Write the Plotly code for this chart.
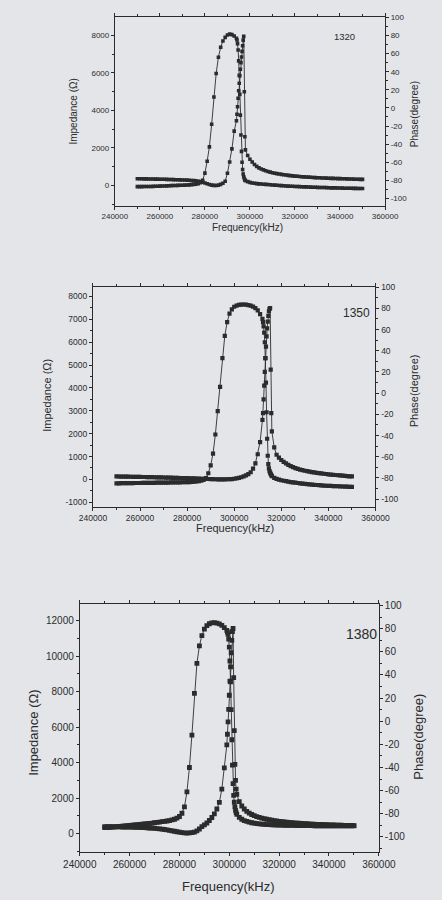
import plotly.graph_objects as go

# ---------------- data ----------------
# sample grids (Hz): 1 kHz steps, 250 Hz steps around anti-resonance
freq_1320 = list(range(250000, 294000, 1000)) + list(range(294000, 298000, 250)) + list(range(298000, 351000, 1000))
freq_1350 = list(range(250000, 312000, 1000)) + list(range(312000, 316000, 250)) + list(range(316000, 351000, 1000))
freq_1380 = list(range(250000, 299000, 1000)) + list(range(299000, 303000, 250)) + list(range(303000, 351000, 1000))

imp_1320 = [
    360, 358, 356, 354, 352, 350, 347, 344, 341, 338,
    335, 332, 329, 326, 322, 318, 314, 310, 305, 300,
    295, 290, 284, 277, 268, 258, 245, 228, 205, 175,
    135, 90, 50, 20, 5, 0, 20, 60, 120, 230,
    650, 1250, 1950, 2900,
    3450, 3800, 4200, 4650, 5050, 5450, 5850, 6200, 6550, 6850, 7150, 7450, 7750, 7950, 5000, 2600,
    1900, 1600, 1400, 1250, 1120, 1020, 940, 880, 830, 785,
    745, 710, 680, 655, 630, 610, 590, 572, 556, 541,
    527, 514, 502, 491, 480, 470, 461, 452, 444, 436,
    429, 422, 415, 409, 403, 397, 392, 387, 382, 377,
    372, 368, 364, 360, 356, 352, 348, 344, 340, 336,
    332, 328, 324,
]
phase_1320 = [
    -87.0, -87.0, -87.0, -86.9, -86.9, -86.8, -86.8, -86.7, -86.6, -86.5,
    -86.4, -86.3, -86.2, -86.1, -86.0, -85.9, -85.8, -85.7, -85.6, -85.5,
    -85.4, -85.3, -85.2, -85.0, -84.8, -84.5, -84.2, -83.6, -82.5, -80.0,
    -72, -59, -43, -18, 12, 38, 56, 67, 74, 78,
    80.5, 81.5, 81.0, 79.5,
    77, 75, 71, 64, 52, 36, 15, -8, -30, -48, -60, -68, -73, -76, -78, -79.5,
    -80.5, -81.5, -82.3, -82.9, -83.3, -83.6, -83.9, -84.1, -84.3, -84.5,
    -84.7, -84.9, -85.1, -85.3, -85.5, -85.7, -85.9, -86.0, -86.2, -86.4,
    -86.5, -86.6, -86.8, -86.9, -87.0, -87.1, -87.2, -87.3, -87.4, -87.5,
    -87.6, -87.7, -87.8, -87.9, -88.0, -88.0, -88.1, -88.2, -88.3, -88.3,
    -88.4, -88.5, -88.5, -88.6, -88.7, -88.7, -88.8, -88.8, -88.9, -88.9,
    -89.0, -89.0, -89.0,
]

imp_1350 = [
    130, 128, 126, 124, 122, 120, 118, 116, 114, 112,
    110, 108, 106, 104, 102, 100, 97, 94, 91, 88,
    85, 82, 79, 76, 73, 70, 67, 64, 61, 58,
    55, 51, 47, 43, 39, 35, 31, 27, 23, 19,
    15, 12, 9, 7, 5, 5, 6, 8, 12, 18,
    30, 46, 68, 96, 130, 175, 235, 315, 470, 700,
    1100, 1630,
    2600, 2900, 3500, 4100, 4700, 5300, 5800, 6250, 6600, 6900, 7150, 7350, 7450, 7490, 4800, 2900,
    2100, 1400, 1080, 950, 850, 770, 700, 640, 585, 535,
    495, 460, 430, 405, 380, 360, 340, 322, 305, 290,
    276, 262, 250, 238, 226, 215, 204, 194, 184, 174,
    165, 156, 147, 138, 130,
]
phase_1350 = [
    -85.0, -85.0, -84.9, -84.9, -84.9, -84.8, -84.8, -84.8, -84.7, -84.7,
    -84.7, -84.6, -84.6, -84.6, -84.5, -84.5, -84.5, -84.4, -84.4, -84.4,
    -84.3, -84.3, -84.3, -84.2, -84.2, -84.2, -84.1, -84.1, -84.0, -84.0,
    -83.9, -83.8, -83.7, -83.5, -83.3, -83.0, -82.5, -81.7, -80.0, -75.5,
    -68, -57, -39, -17, 6, 33, 54, 67, 75, 79,
    81.5, 82.6, 83.2, 83.5, 83.6, 83.5, 83.1, 82.5, 81.6, 80.2,
    78.0, 74.5,
    70, 67, 63, 57, 48, 33, 10, -18, -43, -59, -67, -71, -73.5, -75, -76.2, -77.3,
    -78.3, -79.8, -80.8, -81.5, -82.1, -82.6, -83.0, -83.4, -83.8, -84.1,
    -84.4, -84.7, -85.0, -85.3, -85.6, -85.8, -86.0, -86.2, -86.4, -86.6,
    -86.8, -87.0, -87.1, -87.3, -87.4, -87.5, -87.6, -87.7, -87.8, -87.9,
    -88.0, -88.1, -88.2, -88.3, -88.4,
]

imp_1380 = [
    380, 378, 376, 374, 372, 370, 367, 364, 361, 358,
    355, 351, 347, 342, 337, 331, 324, 316, 307, 297,
    286, 273, 258, 241, 222, 200, 176, 150, 122, 95,
    70, 48, 30, 22, 28, 45, 75, 150, 250, 380,
    480, 590, 730, 900, 1100, 1380, 1750, 2500, 3700,
    5000, 5600, 6300, 7000, 7800, 8600, 9400, 10200, 10900, 11400, 11570, 8800, 5800, 3900, 3000, 2500,
    2200, 1800, 1550, 1380, 1250, 1150, 1070, 1000, 950, 905,
    865, 830, 800, 772, 747, 724, 703, 684, 666, 650, 635, 621, 608,
    596, 585, 574, 564, 555, 546, 538, 530, 523, 516, 509, 503, 497,
    491, 486, 481, 476, 471, 467, 463, 459, 455, 451, 447, 444,
]
phase_1380 = [
    -92.0, -91.8, -91.6, -91.4, -91.2, -91.0, -90.8, -90.6, -90.4, -90.2,
    -90.0, -89.8, -89.6, -89.4, -89.2, -89.0, -88.8, -88.6, -88.3, -88.0,
    -87.7, -87.4, -87.1, -86.8, -86.5, -86.2, -85.8, -85.3, -84.7, -83.8,
    -82.3, -79.5, -74, -61, -40, -12, 24, 50, 65, 74,
    79.5, 82.5, 84.2, 85.0, 85.2, 84.8, 84.0, 82.7, 80.8,
    78.5, 77, 75, 71, 64, 52, 34, 10, -16, -38, -54, -64, -70, -74, -77, -79,
    -80.5, -83.0, -84.7, -85.8, -86.6, -87.2, -87.7, -88.1, -88.4, -88.7,
    -88.9, -89.1, -89.3, -89.4, -89.5, -89.6, -89.7, -89.8, -89.8, -89.9, -89.9, -90.0, -90.0,
    -90.0, -90.1, -90.1, -90.1, -90.2, -90.2, -90.2, -90.2, -90.3, -90.3, -90.3, -90.3, -90.4,
    -90.4, -90.4, -90.4, -90.4, -90.5, -90.5, -90.5, -90.5, -90.5, -90.5, -90.5, -90.5,
]

sample_labels = ["1320", "1350", "1380"]
x_ticks = [240000, 260000, 280000, 300000, 320000, 340000, 360000]
phase_ticks = [-100, -80, -60, -40, -20, 0, 20, 40, 60, 80, 100]
imp_ticks_1320 = [0, 2000, 4000, 6000, 8000]
imp_ticks_1350 = [-1000, 0, 1000, 2000, 3000, 4000, 5000, 6000, 7000, 8000]
imp_ticks_1380 = [0, 2000, 4000, 6000, 8000, 10000, 12000]

# ---------------- figure ----------------
W, H = 442, 900
BG = "#e3e5e9"
INK = "#2b2b2b"
FONT = "Liberation Sans, Arial, sans-serif"

def px(x):
    return x / W

def py(y):
    return 1 - y / H

panels = [
    dict(freq=freq_1320, imp=imp_1320, ph=phase_1320, label=sample_labels[0], lt=imp_ticks_1320,
         xd=[106, 398.7], yd=[12.5, 202], lr=[-1075, 8960], lm=1000, rr=[-108, 100],
         tf=8, ms=3.6, ttl=10, lab_xy=(355, 32), lab_fs=9.5,
         imp_t=(61, 107), ph_t=(430, 110), fr_t=(250, 224)),
    dict(freq=freq_1350, imp=imp_1350, ph=phase_1350, label=sample_labels[1], lt=imp_ticks_1350,
         xd=[82.3, 388.3], yd=[284, 505], lr=[-1188, 8404], lm=500, rr=[-107, 100],
         tf=8.5, ms=4.2, ttl=11, lab_xy=(368, 310), lab_fs=12,
         imp_t=(33, 393), ph_t=(431, 388), fr_t=(236, 527)),
    dict(freq=freq_1380, imp=imp_1380, ph=phase_1380, label=sample_labels[2], lt=imp_ticks_1380,
         xd=[68, 392], yd=[603.3, 852.7], lr=[-1049, 12936], lm=1000, rr=[-113, 101],
         tf=10, ms=4.8, ttl=13, lab_xy=(373, 633), lab_fs=14,
         imp_t=(17, 733), ph_t=(435, 737), fr_t=(229, 887)),
]

fig = go.Figure()
layout = dict(width=W, height=H, margin=dict(l=0, r=0, t=0, b=0),
              paper_bgcolor=BG, plot_bgcolor=BG, showlegend=False,
              font=dict(family=FONT, color=INK))
annotations = []

for i, p in enumerate(panels):
    n = i + 1
    xname = "x" if n == 1 else f"x{n}"
    yl = "y" if n == 1 else f"y{2 * n - 1}"
    yr = f"y{2 * n}"
    xkey = "xaxis" if n == 1 else f"xaxis{n}"
    ylkey = "yaxis" if n == 1 else f"yaxis{2 * n - 1}"
    yrkey = f"yaxis{2 * n}"

    common = dict(mode="lines+markers", line=dict(color=INK, width=0.9),
                  marker=dict(symbol="square", size=p["ms"], color=INK), hoverinfo="skip")
    fig.add_trace(go.Scatter(x=p["freq"], y=p["imp"], xaxis=xname, yaxis=yl, **common))
    fig.add_trace(go.Scatter(x=p["freq"], y=p["ph"], xaxis=xname, yaxis=yr, **common))

    axis_common = dict(showgrid=False, zeroline=False, showline=True, linecolor=INK, linewidth=1,
                       ticks="outside", tickcolor=INK, ticklen=3, tickwidth=1, tickmode="array",
                       tickfont=dict(size=p["tf"], color=INK, family=FONT))
    layout[xkey] = dict(domain=[px(p["xd"][0]), px(p["xd"][1])], anchor=yl,
                        range=[240000, 360000], tickvals=x_ticks,
                        ticktext=[str(v) for v in x_ticks], mirror="ticks",
                        minor=dict(dtick=10000, tick0=240000, ticks="outside", ticklen=2, tickcolor=INK),
                        **axis_common)
    layout[ylkey] = dict(domain=[py(p["yd"][1]), py(p["yd"][0])], anchor=xname,
                         range=p["lr"], tickvals=p["lt"], ticktext=[str(v) for v in p["lt"]],
                         minor=dict(dtick=p["lm"], tick0=0, ticks="outside", ticklen=2, tickcolor=INK),
                         **axis_common)
    layout[yrkey] = dict(overlaying=yl, side="right", anchor=xname,
                         range=p["rr"], tickvals=phase_ticks, ticktext=[str(v) for v in phase_ticks],
                         minor=dict(dtick=10, tick0=0, ticks="outside", ticklen=2, tickcolor=INK),
                         **axis_common)

    def ann(text, xy, size, angle=0):
        annotations.append(dict(text=text, x=px(xy[0]), y=py(xy[1]), xref="paper", yref="paper",
                                showarrow=False, textangle=angle, xanchor="center", yanchor="middle",
                                font=dict(size=size, color=INK, family=FONT)))

    ann("Impedance (Ω)", p["imp_t"], p["ttl"], -90)
    ann("Phase(degree)", p["ph_t"], p["ttl"], -90)
    ann("Frequency(kHz)", p["fr_t"], p["ttl"])
    ann(p["label"], p["lab_xy"], p["lab_fs"])

layout["annotations"] = annotations
fig.update_layout(**layout)
fig.write_html("out.html", config={"displayModeBar": False},
               post_script="document.body.style.margin='0';document.body.style.background='" + BG + "';")
